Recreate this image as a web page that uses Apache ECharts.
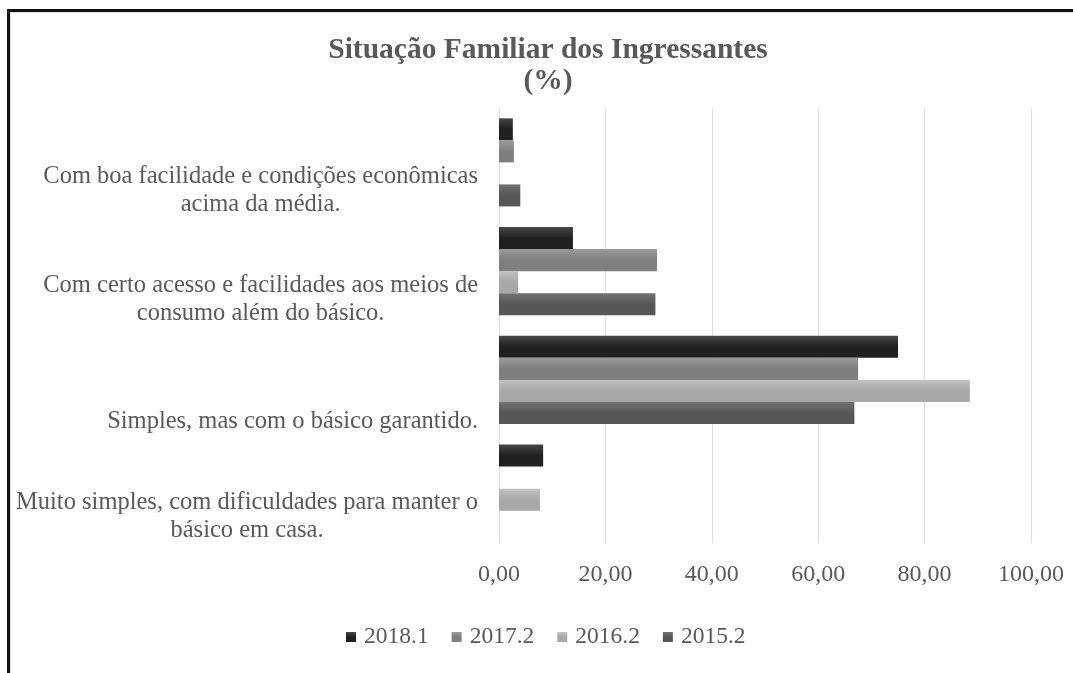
<!DOCTYPE html>
<html>
<head>
<meta charset="utf-8">
<title>Situação Familiar dos Ingressantes</title>
<script src="https://cdn.jsdelivr.net/npm/echarts@6/dist/echarts.min.js"></script>
<style>
  html, body { margin: 0; padding: 0; background: #fff; }
  #main { width: 1073px; height: 673px; }
  .frame {
    position: absolute; left: 7px; top: 9px; width: 1080px; height: 680px;
    border-top: 3px solid #111; border-left: 3px solid #111;
    box-shadow: inset 1px 1px 0 #dde0e8; pointer-events: none;
  }
</style>
</head>
<body>
<div id="main"></div>
<div class="frame"></div>
<script>
// categorias (de cima para baixo)
var categorias = [
  'Com boa facilidade e condições econômicas\nacima da média.',
  'Com certo acesso e facilidades aos meios de\nconsumo além do básico.',
  'Simples, mas com o básico garantido.',
  'Muito simples, com dificuldades para manter o\nbásico em casa.'
]
var semestres = ['2018.1', '2017.2', '2016.2', '2015.2']
var s2018_1 = [2.6, 13.9, 75.0, 8.3]
var s2017_2 = [2.8, 29.7, 67.5, 0]
var s2016_2 = [0, 3.6, 88.5, 7.7]
var s2015_2 = [4.0, 29.4, 66.8, 0]
var eixoMin = 0, eixoMax = 100, eixoPasso = 20

var fonte = 'Liberation Serif, Times New Roman, serif'
var cinzaTexto = '#595959'

function grad(c1, c2) {
  return new echarts.graphic.LinearGradient(0, 0, 0, 1, [
    { offset: 0, color: c1 },
    { offset: 0.5, color: c2 },
    { offset: 1, color: c2 }
  ])
}

var cores = [
  grad('#474747', '#202020'),
  grad('#9a9a9a', '#7f7f7f'),
  grad('#c2c2c2', '#a8a8a8'),
  grad('#727272', '#575757')
]
var dados = [s2018_1, s2017_2, s2016_2, s2015_2]

var myChart = echarts.init(document.getElementById('main'))
var option = {
  animation: false,
  title: {
    text: 'Situação Familiar dos Ingressantes\n(%)',
    left: 543,
    top: 30,
    textAlign: 'center',
    textStyle: {
      fontFamily: fonte,
      fontSize: 29.5,
      fontWeight: 'bold',
      color: cinzaTexto,
      lineHeight: 31
    }
  },
  legend: {
    data: semestres,
    left: 346,
    top: 625,
    padding: 0,
    itemWidth: 10,
    itemHeight: 10,
    itemGap: 23,
    icon: 'rect',
    textStyle: { fontFamily: fonte, fontSize: 23.5, color: cinzaTexto, padding: [0, 0, 0, 3] }
  },
  grid: { left: 499, right: 42, top: 108, bottom: 130, containLabel: false },
  xAxis: {
    type: 'value',
    min: eixoMin,
    max: eixoMax,
    interval: eixoPasso,
    axisLine: { show: false },
    axisTick: { show: false },
    splitLine: { lineStyle: { color: '#dcdce6', width: 1 } },
    axisLabel: {
      margin: 20,
      fontFamily: fonte,
      fontSize: 24,
      color: cinzaTexto,
      formatter: function (v) { return v.toFixed(2).replace('.', ',') }
    }
  },
  yAxis: {
    type: 'category',
    data: categorias,
    inverse: true,
    axisLine: { show: false },
    axisTick: { show: false },
    axisLabel: {
      margin: 21,
      align: 'right',
      verticalAlign: 'top',
      lineHeight: 28,
      fontFamily: fonte,
      fontSize: 24.5,
      color: cinzaTexto,
      formatter: function (v) {
        var linhas = v.split('\n').map(function (l) { return '{c|' + l + '}' })
        if (linhas.length === 1) return '\n' + linhas[0]
        return linhas.join('\n')
      },
      rich: {
        c: { align: 'center', fontFamily: fonte, fontSize: 24.5, lineHeight: 28, color: cinzaTexto }
      }
    }
  },
  series: semestres.map(function (nome, i) {
    return {
      name: nome,
      type: 'bar',
      data: dados[i],
      barGap: '0%',
      barCategoryGap: '19%',
      itemStyle: { color: cores[i] }
    }
  })
}
myChart.setOption(option)
window.addEventListener('resize', function () { myChart.resize() })
</script>
</body>
</html>
